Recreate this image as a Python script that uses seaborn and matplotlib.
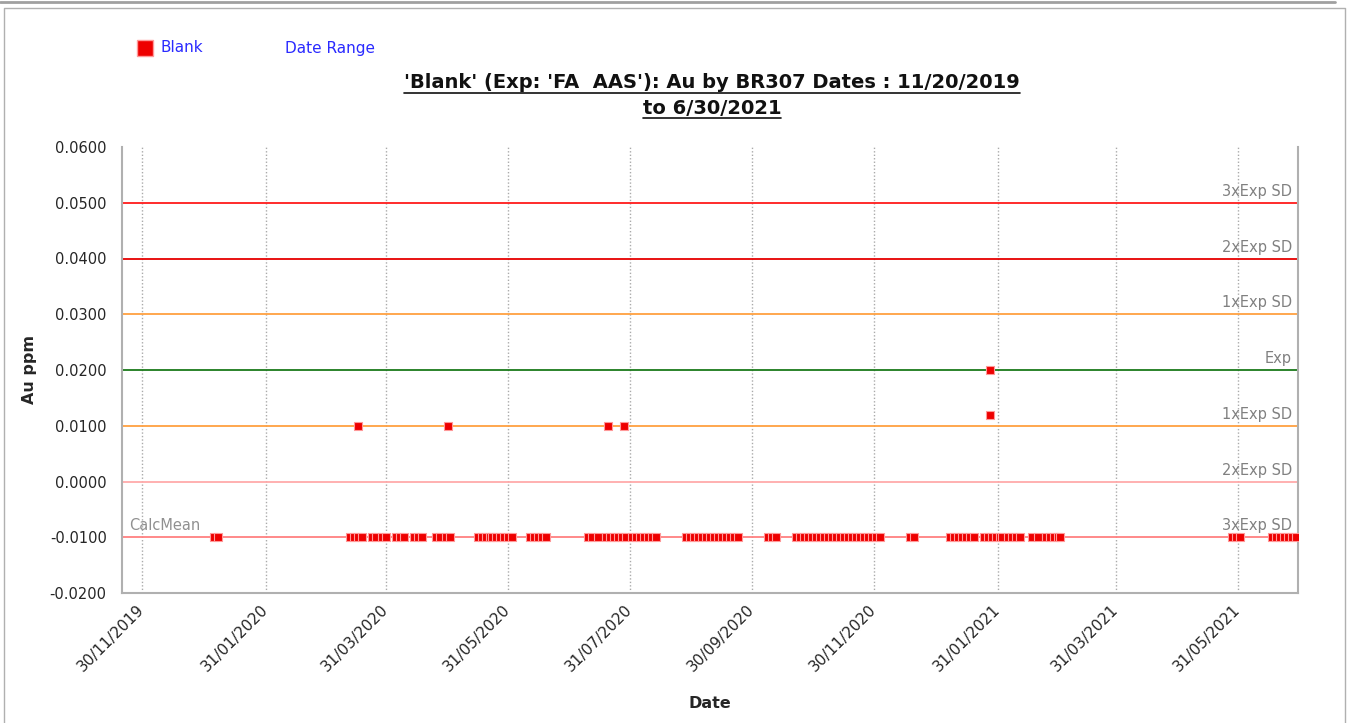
import pandas as pd
import matplotlib.pyplot as plt
from matplotlib.lines import Line2D
import seaborn as sns

# ── dados ──────────────────────────────────────────────────────────────
datas_baixo = [
    '2020-01-05', '2020-01-07',
    '2020-03-13', '2020-03-15', '2020-03-17', '2020-03-19',
    '2020-03-24', '2020-03-26', '2020-03-29', '2020-03-31',
    '2020-04-05', '2020-04-07', '2020-04-09',
    '2020-04-14', '2020-04-16', '2020-04-18',
    '2020-04-25', '2020-04-27', '2020-04-30', '2020-05-02',
    '2020-05-16', '2020-05-18', '2020-05-20', '2020-05-22', '2020-05-23',
    '2020-05-25', '2020-05-27', '2020-05-29', '2020-05-31', '2020-06-02',
    '2020-06-11', '2020-06-13', '2020-06-15', '2020-06-17', '2020-06-19',
    '2020-07-10', '2020-07-12', '2020-07-15',
    '2020-07-19', '2020-07-21', '2020-07-23', '2020-07-25', '2020-07-27', '2020-07-29',
    '2020-08-01', '2020-08-03', '2020-08-05', '2020-08-07', '2020-08-09',
    '2020-08-11', '2020-08-13',
    '2020-08-28', '2020-08-30', '2020-09-01', '2020-09-03', '2020-09-05',
    '2020-09-07', '2020-09-09', '2020-09-11', '2020-09-13', '2020-09-15',
    '2020-09-17', '2020-09-19', '2020-09-21', '2020-09-23',
    '2020-10-08', '2020-10-10', '2020-10-12',
    '2020-10-22', '2020-10-24', '2020-10-26', '2020-10-28', '2020-10-30',
    '2020-11-01', '2020-11-03', '2020-11-05', '2020-11-07', '2020-11-09',
    '2020-11-11', '2020-11-13', '2020-11-15', '2020-11-17', '2020-11-19',
    '2020-11-21', '2020-11-23', '2020-11-25', '2020-11-27', '2020-11-29',
    '2020-12-01', '2020-12-03',
    '2020-12-18', '2020-12-20',
    '2021-01-07', '2021-01-09', '2021-01-11', '2021-01-13', '2021-01-15',
    '2021-01-17', '2021-01-19',
    '2021-01-24', '2021-01-26', '2021-01-28', '2021-01-30', '2021-02-01', '2021-02-02',
    '2021-02-05', '2021-02-07', '2021-02-09', '2021-02-11',
    '2021-02-17', '2021-02-20',
    '2021-02-24', '2021-02-26', '2021-02-28', '2021-03-02', '2021-03-03',
    '2021-05-28', '2021-05-30', '2021-06-01',
    '2021-06-17', '2021-06-19', '2021-06-21', '2021-06-23', '2021-06-25',
    '2021-06-27', '2021-06-29',
]
datas_altas = ['2020-03-17', '2020-05-01', '2020-07-20', '2020-07-28',
               '2021-01-27', '2021-01-27']
valores_altos = [0.010, 0.010, 0.010, 0.010, 0.020, 0.012]

# linhas de controle
niveis = [0.05, 0.04, 0.03, 0.02, 0.01, 0.0, -0.01]
rotulos_niveis = ['3xExp SD', '2xExp SD', '1xExp SD', 'Exp',
                  '1xExp SD', '2xExp SD', '3xExp SD']
cores_niveis = ['#ff1a1a', '#e60000', '#ffa040', '#1a7a1a',
                '#ffa040', '#ffaaaa', '#ff8080']

ticks_x = ['2019-11-30', '2020-01-31', '2020-03-31', '2020-05-31',
           '2020-07-31', '2020-09-30', '2020-11-30', '2021-01-31',
           '2021-03-31', '2021-05-31']
inicio, fim = '2019-11-20', '2021-06-30'

df = pd.DataFrame({
    'Date': pd.to_datetime(datas_baixo + datas_altas),
    'Au ppm': [-0.01] * len(datas_baixo) + valores_altos,
})

sns.set_style("white")
plt.rcParams['font.family'] = ['DejaVu Sans']

fig = plt.figure(figsize=(13.49, 7.23), dpi=100)
ax = fig.add_axes([122 / 1349, 1 - 593 / 723, 1176 / 1349, 446 / 723])

for nivel, cor in zip(niveis, cores_niveis):
    ax.axhline(nivel, color=cor, linewidth=1.3, zorder=1)

sns.scatterplot(data=df, x='Date', y='Au ppm', marker='s', s=38,
                color='#ee0000', edgecolor='#ff9999', linewidth=0.8,
                ax=ax, zorder=3, legend=False)

ax.set_xlim(pd.Timestamp(inicio), pd.Timestamp(fim))
ax.set_ylim(-0.02, 0.06)
ax.set_yticks([i / 100 for i in range(-2, 7)])
ax.set_yticklabels([f'{i / 100:.4f}' for i in range(-2, 7)], fontsize=10.5)

tx = pd.to_datetime(ticks_x)
ax.set_xticks(tx)
ax.set_xticklabels([t.strftime('%d/%m/%Y') for t in tx], rotation=45,
                   ha='right', va='center', rotation_mode='anchor',
                   fontsize=11)
ax.xaxis.grid(True, linestyle=(0, (1, 1.5)), color='#aaaaaa', linewidth=1)
ax.yaxis.grid(False)
ax.tick_params(axis='x', length=0, pad=10)
ax.tick_params(axis='y', length=0, pad=11)

for lado in ['left', 'bottom', 'right']:
    ax.spines[lado].set_color('#b0b0b0')
    ax.spines[lado].set_linewidth(1.5)
ax.spines['top'].set_visible(False)

ax.set_xlabel('Date', fontsize=11.5, fontweight='bold', labelpad=16)
ax.set_ylabel('Au ppm', fontsize=11.5, fontweight='bold', labelpad=9)

for nivel, rot in zip(niveis, rotulos_niveis):
    ax.text(0.995, nivel + 0.0007, rot, transform=ax.get_yaxis_transform(),
            ha='right', va='bottom', fontsize=10.5, color='#808080')
ax.text(0.006, -0.0093, 'CalcMean', transform=ax.get_yaxis_transform(),
        ha='left', va='bottom', fontsize=10.5, color='#909090')

# título sublinhado
titulo = ["'Blank' (Exp: 'FA  AAS'): Au by BR307 Dates : 11/20/2019",
          "to 6/30/2021"]
tts = []
for i, linha in enumerate(titulo):
    tts.append(fig.text(712 / 1349, 1 - (83 + 25 * i) / 723, linha,
                        ha='center', va='center', fontsize=14,
                        fontweight='bold', color='#111111'))
fig.canvas.draw()
r = fig.canvas.get_renderer()
for t in tts:
    bb = t.get_window_extent(r).transformed(fig.transFigure.inverted())
    fig.add_artist(Line2D([bb.x0, bb.x1], [bb.y0 - 0.001, bb.y0 - 0.001],
                          color='#111111', linewidth=1.2))

# legenda no topo
fig.add_artist(Line2D([145 / 1349], [1 - 48 / 723], marker='s', markersize=12,
                      color='#ee0000', markeredgecolor='#ff9999',
                      markeredgewidth=1, linestyle='none'))
fig.text(160 / 1349, 1 - 48 / 723, 'Blank', color='#2a2aff', fontsize=11,
         va='center', ha='left')
fig.text(285 / 1349, 1 - 48 / 723, 'Date Range', color='#2a2aff', fontsize=11,
         va='center', ha='left')

# moldura externa
fig.add_artist(Line2D([0, 1335 / 1349], [1 - 2 / 723, 1 - 2 / 723],
                      color='#a0a0a0', linewidth=2))
fig.add_artist(Line2D([4 / 1349, 4 / 1349, 1345 / 1349, 1345 / 1349],
                      [0, 1 - 8 / 723, 1 - 8 / 723, 0],
                      color='#b0b0b0', linewidth=1))

fig.savefig('out.png', dpi=100)
